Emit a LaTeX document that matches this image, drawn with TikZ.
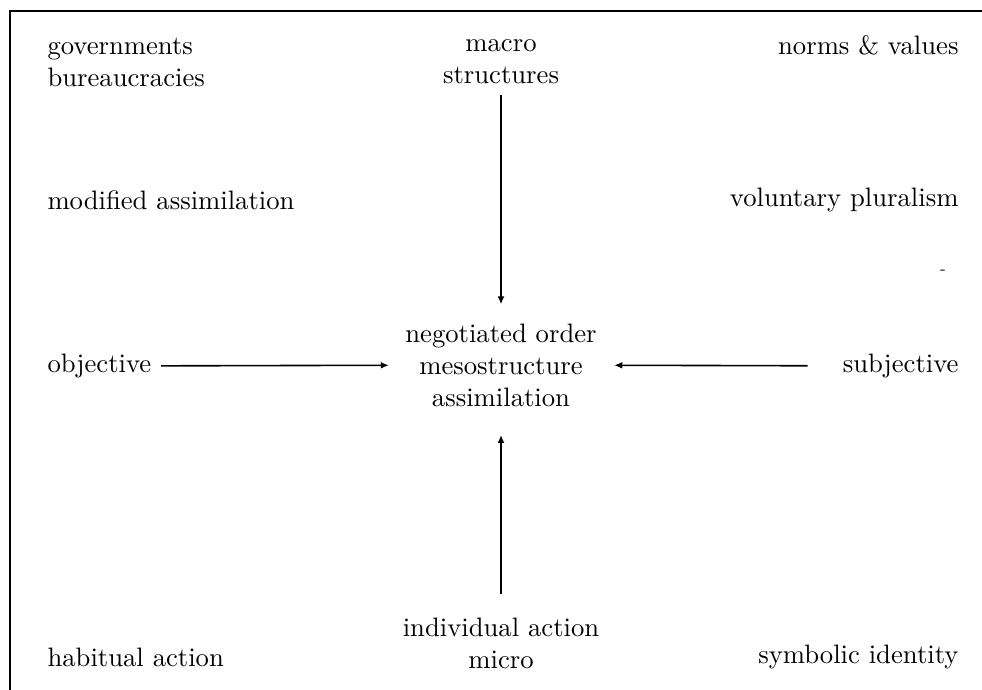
\documentclass[tikz,border=0pt]{standalone}
\usepackage{tikz}
\usetikzlibrary{arrows.meta,positioning}

\begin{document}
\begin{tikzpicture}[
  x=0.375pt, y=-0.375pt,
  lbl/.style={align=center, font=\normalsize, inner sep=3pt},
  lft/.style={lbl, align=left, anchor=west},
  rgt/.style={lbl, align=right, anchor=east},
  arr/.style={-{Latex[length=3pt,width=2.6pt]}, semithick}
]
\useasboundingbox (0,0) rectangle (982,690);
% frame (only left and top edges fall inside the page)
\draw[thick] (10,690) |- (982,11);

% corners and sides
\node[lft] (gov) at (39,62) {governments\\bureaucracies};
\node[rgt] (norms) at (967,45) {norms \& values};
\node[lft] (modass) at (39,200) {modified assimilation};
\node[rgt] (volplur) at (967,200) {voluntary pluralism};
\node[lft] (habit) at (39,657) {habitual action};
\node[rgt] (symb) at (967,657) {symbolic identity};

% axes ends
\node[lbl] (macro) at (501,62) {macro\\structures};
\node[lbl] (micro) at (501,643) {individual action\\micro};
\node[lft] (obj) at (39,366) {objective};
\node[rgt] (subj) at (967,366) {subjective};

% centre
\node[lbl] (meso) at (501,365) {negotiated order\\mesostructure\\assimilation};

% stray mark
\node[font=\tiny, inner sep=0pt] (mark) at (943,272) {-};

\draw[arr, shorten <=1pt, shorten >=4pt] (macro) -- (meso);
\draw[arr, shorten <=5.5pt, shorten >=7.5pt] (micro) -- (meso);
\draw[arr, shorten <=0.5pt, shorten >=3pt] (obj) -- (meso);
\draw[arr, shorten <=10pt, shorten >=3.4pt] (subj) -- (meso);
\end{tikzpicture}
\end{document}
